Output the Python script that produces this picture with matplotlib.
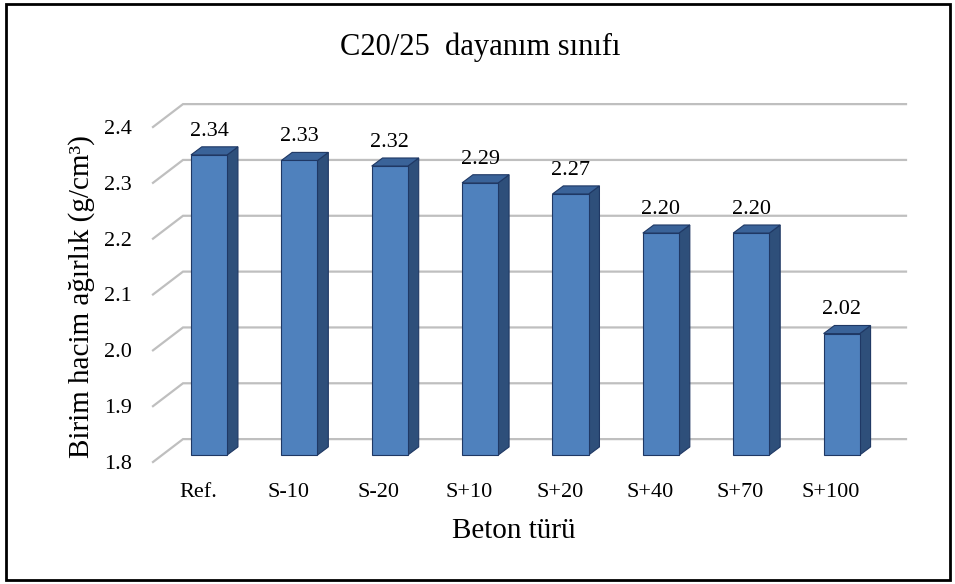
import matplotlib
matplotlib.use("Agg")
import matplotlib.pyplot as plt
from matplotlib.patches import Polygon, Rectangle

plt.rcParams['font.family'] = ['Liberation Serif', 'DejaVu Serif']

# data
categories = ["Ref.", "S-10", "S-20", "S+10", "S+20", "S+40", "S+70", "S+100"]
values = [2.34, 2.33, 2.32, 2.29, 2.27, 2.20, 2.20, 2.02]
yticks = [1.8, 1.9, 2.0, 2.1, 2.2, 2.3, 2.4]
value_labels = ["2.34", "2.33", "2.32", "2.29", "2.27", "2.20", "2.20", "2.02"]

# fake 3D offsets (in data units)
wall_dx, wall_dy = 0.332, 0.041      # back wall vs. front plane
bar_dx, bar_dy = 0.12, 0.0125        # bar front face vs. front plane
side_dx, side_dy = 0.12, 0.0145      # bar depth
bar_w = 0.4

front_col = "#4f81bd"
side_col = "#2e4f7a"
top_col = "#3a6399"
edge_col = "#1f3864"
grid_col = "#bfbfbf"

fig = plt.figure(figsize=(9.55, 5.84), dpi=100)
ax = fig.add_axes([153 / 955, 1 - 462 / 584, 723 / 955, 335 / 584])
n = len(categories)
ax.set_xlim(-0.5, n - 0.5)
ax.set_ylim(yticks[0], yticks[-1])

# gridlines: slanted part + back wall
x0, x1 = -0.5, n - 0.5
for v in yticks:
    ax.plot([x0, x0 + wall_dx, x1 + wall_dx], [v, v + wall_dy, v + wall_dy],
            color=grid_col, lw=1.6, clip_on=False, zorder=1,
            solid_joinstyle="miter")

# bars
for i, v in enumerate(values):
    xl = i + bar_dx - bar_w / 2
    xr = xl + bar_w
    y0 = yticks[0] + bar_dy
    y1 = v + bar_dy * 0.8
    ax.add_patch(Polygon([(xr, y0), (xr + side_dx, y0 + side_dy),
                          (xr + side_dx, y1 + side_dy), (xr, y1)],
                         closed=True, fc=side_col, ec=edge_col, lw=0.8,
                         clip_on=False, zorder=3))
    ax.add_patch(Polygon([(xl, y1), (xl + side_dx, y1 + side_dy),
                          (xr + side_dx, y1 + side_dy), (xr, y1)],
                         closed=True, fc=top_col, ec=edge_col, lw=0.8,
                         clip_on=False, zorder=3))
    ax.add_patch(Rectangle((xl, y0), bar_w, y1 - y0, fc=front_col,
                           ec=edge_col, lw=0.8, clip_on=False, zorder=4))
    ax.annotate(value_labels[i], (i + bar_dx, y1), xytext=(0, 17),
                textcoords="offset points", ha="center", va="center",
                fontsize=16, zorder=5)

ax.set_xticks(range(n))
ax.set_xticklabels(categories, fontsize=16)
ax.set_yticks(yticks)
ax.set_yticklabels([f"{t:.1f}" for t in yticks], fontsize=16)
ax.tick_params(axis="x", length=0, pad=15)
ax.tick_params(axis="y", length=0, pad=15)
for s in ax.spines.values():
    s.set_visible(False)
ax.patch.set_alpha(0)

fig.text(480 / 955, 1 - 55 / 584, "C20/25  dayanım sınıfı", fontsize=22,
         ha="center", va="baseline")
fig.text(514 / 955, 1 - 538 / 584, "Beton türü", fontsize=21,
         ha="center", va="baseline")
fig.text(89 / 955, 1 - 297 / 584, "Birim hacim ağırlık (g/cm³)",
         fontsize=21, ha="center", va="baseline", rotation=90,
         rotation_mode="anchor")

# outer frame
fig.patches.append(Rectangle((6 / 955, 1 - 580 / 584), 944 / 955, 576 / 584,
                             transform=fig.transFigure, fill=False,
                             ec="black", lw=2))

fig.savefig("out.png", dpi=100)
